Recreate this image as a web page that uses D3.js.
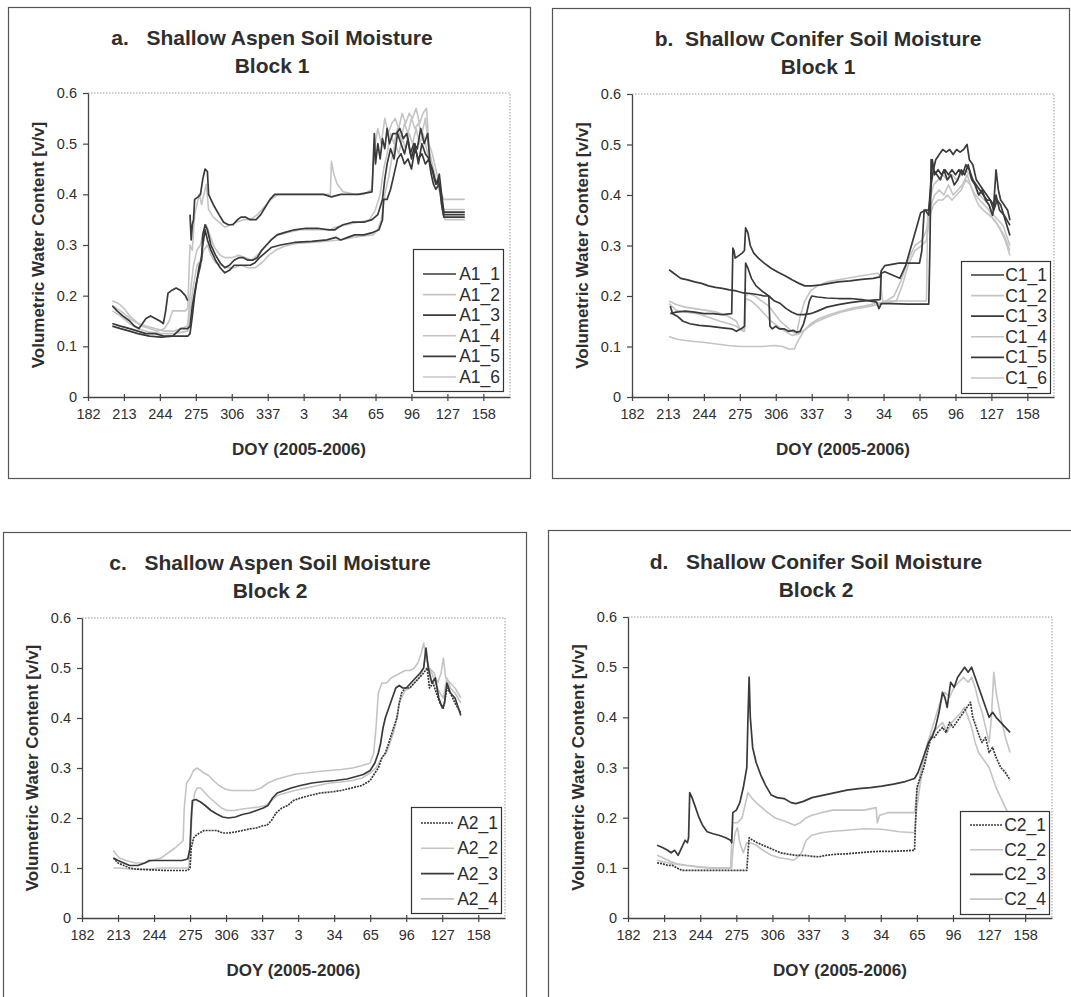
<!DOCTYPE html>
<html>
<head>
<meta charset="utf-8">
<script src="https://cdn.jsdelivr.net/npm/d3@7"></script>
<style>
  html, body { margin: 0; padding: 0; background: #ffffff; }
  svg { display: block; font-family: "Liberation Sans", Arial, sans-serif; }
</style>
</head>
<body>
<svg id="chart" width="1071" height="997"></svg>
<script>
// ---------- tick labels ----------
const xTickValues = [182, 213, 244, 275, 306, 337, 368, 399, 430, 461, 492, 523];
const xTickLabels = ["182","213","244","275","306","337","3","34","65","96","127","158"];
const yTickValues = [0, 0.1, 0.2, 0.3, 0.4, 0.5, 0.6];
const yTickLabels = ["0","0.1","0.2","0.3","0.4","0.5","0.6"];

// x = continuous day count starting at DOY 182 of 2005 (values > 365 are 2006 DOY + 365)
// ---------- Panel a : Shallow Aspen Block 1 ----------
const A1_1 = [[203,0.18],[207,0.17],[212,0.16],[218,0.15],[222,0.14],[226,0.135],[229,0.145],[232,0.155],[236,0.16],[240,0.155],[244,0.15],[247,0.145],[249,0.17],[251,0.205],[254,0.21],[258,0.215],[262,0.21],[266,0.2],[268,0.19],[269,null],[270,0.36],[271,0.31],[272,0.34],[273,0.35],[274,0.39],[277,0.395],[279,0.40],[281,0.43],[283,0.45],[285,0.445],[286,0.40],[290,0.38],[295,0.36],[299,0.345],[303,0.34],[307,0.34],[311,0.35],[314,0.355],[318,0.355],[322,0.35],[327,0.35],[331,0.36],[335,0.375],[339,0.39],[343,0.40],[355,0.40],[370,0.40],[385,0.40],[392,0.395],[400,0.40],[415,0.40],[427,0.405],[429,0.52],[430,0.46],[432,0.50],[434,0.47],[436,0.51],[438,0.49],[440,0.53],[442,0.50],[445,0.52],[448,0.52],[451,0.53],[454,0.51],[457,0.52],[460,0.48],[463,0.50],[466,0.49],[469,0.53],[472,0.50],[475,0.52],[477,0.46],[480,0.44],[482,0.42],[484,0.43],[486,0.41],[488,0.37],[489,0.36],[507,0.36]];
const A1_2 = [[203,0.19],[208,0.185],[213,0.175],[218,0.16],[223,0.15],[228,0.14],[235,0.135],[242,0.13],[248,0.135],[252,0.15],[255,0.17],[260,0.17],[266,0.17],[268,0.175],[270,0.30],[272,0.29],[274,0.36],[276,0.38],[278,0.40],[280,0.38],[282,0.40],[284,0.42],[286,0.37],[290,0.355],[295,0.345],[300,0.335],[305,0.34],[310,0.345],[316,0.35],[322,0.35],[328,0.36],[334,0.375],[340,0.39],[346,0.40],[360,0.40],[375,0.40],[391,0.40],[392,0.465],[394,0.44],[397,0.42],[402,0.405],[412,0.40],[420,0.40],[427,0.41],[429,0.49],[432,0.53],[435,0.50],[438,0.55],[441,0.52],[444,0.54],[447,0.55],[450,0.53],[453,0.56],[456,0.54],[459,0.56],[462,0.55],[465,0.57],[468,0.54],[471,0.56],[474,0.57],[476,0.50],[479,0.48],[481,0.46],[483,0.44],[485,0.42],[487,0.40],[489,0.39],[507,0.39]];
const A1_3 = [[203,0.145],[210,0.14],[218,0.135],[225,0.13],[232,0.125],[240,0.125],[248,0.12],[255,0.12],[262,0.12],[268,0.12],[270,0.125],[272,0.16],[274,0.20],[276,0.23],[278,0.26],[280,0.27],[281,0.32],[283,0.34],[285,0.33],[288,0.30],[292,0.28],[296,0.265],[300,0.255],[304,0.26],[308,0.27],[312,0.275],[316,0.275],[320,0.27],[324,0.27],[328,0.275],[332,0.29],[336,0.30],[340,0.31],[345,0.32],[352,0.325],[360,0.33],[370,0.333],[380,0.333],[390,0.33],[395,0.33],[398,0.335],[402,0.34],[410,0.345],[420,0.345],[427,0.35],[432,0.36],[436,0.39],[438,0.43],[440,0.46],[443,0.49],[446,0.47],[449,0.52],[452,0.50],[455,0.48],[458,0.51],[461,0.47],[464,0.50],[467,0.46],[470,0.50],[473,0.48],[476,0.47],[479,0.45],[481,0.43],[483,0.42],[485,0.44],[487,0.40],[489,0.365],[507,0.365]];
const A1_4 = [[203,0.18],[210,0.17],[218,0.155],[225,0.145],[232,0.14],[240,0.135],[248,0.13],[256,0.13],[262,0.135],[268,0.14],[270,0.20],[273,0.26],[276,0.29],[279,0.30],[282,0.33],[284,0.34],[287,0.32],[291,0.295],[296,0.28],[300,0.275],[306,0.275],[312,0.28],[318,0.275],[323,0.27],[328,0.28],[334,0.295],[340,0.31],[346,0.32],[355,0.325],[365,0.33],[380,0.33],[391,0.33],[395,0.335],[405,0.34],[415,0.345],[425,0.35],[430,0.37],[434,0.40],[437,0.45],[440,0.48],[443,0.52],[446,0.50],[449,0.53],[452,0.51],[455,0.54],[458,0.52],[461,0.55],[464,0.53],[467,0.54],[470,0.52],[473,0.55],[476,0.49],[478,0.47],[480,0.45],[482,0.43],[485,0.42],[487,0.38],[489,0.37],[507,0.37]];
const A1_5 = [[203,0.14],[210,0.135],[218,0.13],[225,0.125],[235,0.12],[245,0.118],[255,0.12],[262,0.135],[268,0.135],[270,0.14],[272,0.18],[275,0.22],[277,0.24],[279,0.26],[281,0.30],[283,0.33],[285,0.31],[288,0.29],[292,0.27],[296,0.255],[300,0.245],[304,0.25],[308,0.26],[313,0.26],[318,0.26],[322,0.26],[326,0.265],[330,0.275],[335,0.285],[340,0.295],[348,0.30],[360,0.305],[375,0.307],[388,0.31],[396,0.315],[400,0.31],[406,0.315],[412,0.32],[420,0.32],[428,0.325],[433,0.33],[436,0.35],[437,0.39],[440,0.39],[443,0.41],[446,0.44],[449,0.47],[452,0.48],[455,0.46],[458,0.47],[461,0.45],[464,0.49],[467,0.47],[470,0.48],[473,0.46],[476,0.47],[478,0.44],[480,0.42],[482,0.41],[485,0.42],[487,0.38],[489,0.355],[507,0.355]];
const A1_6 = [[203,0.17],[210,0.16],[218,0.145],[225,0.135],[235,0.128],[245,0.125],[255,0.125],[263,0.128],[268,0.13],[270,0.17],[273,0.22],[276,0.26],[279,0.27],[282,0.29],[285,0.30],[288,0.28],[292,0.265],[297,0.26],[302,0.255],[308,0.255],[314,0.26],[320,0.255],[326,0.255],[332,0.265],[338,0.28],[344,0.29],[352,0.298],[362,0.303],[375,0.305],[390,0.308],[400,0.31],[410,0.315],[420,0.318],[428,0.32],[432,0.33],[435,0.35],[438,0.40],[441,0.43],[444,0.47],[447,0.50],[450,0.48],[453,0.51],[456,0.49],[459,0.52],[462,0.50],[465,0.53],[468,0.50],[471,0.52],[474,0.49],[476,0.47],[478,0.45],[480,0.43],[483,0.42],[486,0.40],[488,0.36],[490,0.35],[507,0.35]];

// ---------- Panel b : Shallow Conifer Block 1 ----------
const C1_1 = [[214,0.252],[218,0.245],[224,0.235],[230,0.232],[236,0.228],[242,0.225],[248,0.22],[254,0.217],[260,0.215],[266,0.212],[272,0.21],[278,0.206],[284,0.205],[290,0.203],[296,0.20],[300,0.20],[301,0.14],[303,0.135],[306,0.14],[309,0.135],[313,0.135],[317,0.13],[321,0.132],[324,0.128],[327,0.13],[330,0.145],[333,0.17],[335,0.19],[337,0.20],[342,0.198],[350,0.196],[360,0.195],[370,0.195],[380,0.193],[388,0.19],[393,0.188],[395,0.175],[397,0.185],[405,0.185],[420,0.184],[438,0.184],[439,0.30],[440,0.47],[442,0.45],[444,0.47],[447,0.48],[450,0.49],[453,0.485],[456,0.49],[459,0.48],[462,0.49],[465,0.485],[468,0.49],[471,0.50],[473,0.47],[476,0.46],[479,0.43],[482,0.42],[485,0.41],[488,0.40],[491,0.39],[494,0.38],[496,0.45],[498,0.41],[500,0.39],[503,0.38],[506,0.37],[508,0.35]];
const C1_2 = [[214,0.19],[220,0.183],[228,0.178],[236,0.175],[245,0.172],[255,0.168],[265,0.16],[272,0.15],[275,0.135],[278,0.13],[279,0.13],[280,0.20],[283,0.205],[288,0.20],[294,0.19],[300,0.18],[305,0.165],[310,0.15],[315,0.14],[320,0.13],[324,0.125],[327,0.16],[331,0.19],[336,0.21],[342,0.22],[350,0.228],[360,0.232],[370,0.236],[380,0.24],[388,0.243],[394,0.245],[396,0.24],[398,0.19],[410,0.19],[425,0.19],[436,0.19],[437,0.36],[439,0.39],[442,0.42],[446,0.43],[450,0.44],[454,0.43],[458,0.44],[462,0.43],[466,0.44],[470,0.45],[473,0.44],[476,0.43],[479,0.41],[482,0.40],[486,0.39],[490,0.38],[494,0.36],[498,0.35],[502,0.34],[505,0.32],[508,0.30]];
const C1_3 = [[215,0.165],[220,0.168],[228,0.17],[236,0.168],[244,0.165],[252,0.165],[260,0.163],[268,0.165],[269,0.295],[270,0.29],[271,0.275],[274,0.28],[277,0.285],[279,0.29],[280,0.335],[282,0.325],[284,0.30],[287,0.285],[291,0.275],[296,0.265],[302,0.255],[308,0.247],[314,0.24],[320,0.232],[326,0.225],[331,0.22],[337,0.22],[345,0.222],[352,0.225],[360,0.228],[370,0.23],[380,0.233],[390,0.235],[396,0.238],[397,0.25],[400,0.26],[405,0.262],[412,0.265],[420,0.265],[430,0.265],[432,0.29],[434,0.37],[438,0.37],[440,0.43],[441,0.47],[443,0.44],[446,0.45],[449,0.44],[452,0.45],[455,0.44],[458,0.45],[461,0.44],[464,0.45],[467,0.44],[470,0.46],[473,0.45],[476,0.43],[479,0.42],[482,0.41],[485,0.40],[488,0.39],[491,0.39],[494,0.37],[497,0.39],[500,0.38],[504,0.35],[508,0.32]];
const C1_4 = [[214,0.12],[220,0.115],[228,0.112],[236,0.11],[245,0.108],[255,0.105],[265,0.102],[275,0.10],[285,0.10],[295,0.10],[305,0.102],[312,0.10],[317,0.095],[322,0.095],[325,0.11],[330,0.13],[336,0.145],[343,0.155],[352,0.163],[362,0.17],[372,0.176],[382,0.18],[392,0.185],[400,0.188],[408,0.20],[414,0.23],[420,0.27],[426,0.30],[432,0.31],[436,0.33],[440,0.38],[443,0.40],[447,0.41],[451,0.40],[455,0.42],[459,0.40],[463,0.41],[467,0.42],[471,0.44],[474,0.42],[477,0.40],[481,0.38],[485,0.37],[490,0.36],[495,0.35],[500,0.33],[504,0.31],[508,0.28]];
const C1_5 = [[215,0.18],[217,0.165],[221,0.16],[226,0.15],[232,0.145],[240,0.142],[250,0.14],[260,0.137],[268,0.135],[272,0.13],[276,0.135],[279,0.14],[280,0.265],[282,0.255],[285,0.235],[289,0.22],[294,0.21],[300,0.20],[305,0.19],[310,0.185],[315,0.175],[320,0.168],[325,0.163],[330,0.163],[336,0.165],[342,0.17],[350,0.178],[360,0.183],[370,0.187],[380,0.19],[390,0.192],[396,0.193],[397,0.245],[400,0.248],[405,0.243],[410,0.238],[413,0.235],[418,0.26],[423,0.30],[428,0.34],[431,0.365],[435,0.37],[438,0.36],[440,0.42],[442,0.45],[445,0.44],[448,0.43],[451,0.45],[454,0.43],[457,0.44],[460,0.42],[463,0.43],[466,0.45],[469,0.44],[472,0.46],[475,0.43],[478,0.42],[481,0.40],[484,0.41],[487,0.39],[490,0.38],[493,0.36],[496,0.40],[499,0.37],[503,0.36],[508,0.34]];
const C1_6 = [[214,0.185],[220,0.172],[228,0.168],[238,0.165],[248,0.158],[258,0.15],[266,0.145],[272,0.14],[276,0.133],[279,0.135],[280,0.195],[285,0.19],[290,0.18],[296,0.165],[302,0.15],[308,0.14],[314,0.13],[320,0.122],[326,0.125],[332,0.135],[340,0.148],[350,0.158],[362,0.168],[375,0.175],[388,0.18],[398,0.185],[410,0.19],[415,0.22],[420,0.26],[426,0.29],[432,0.30],[436,0.31],[439,0.36],[442,0.38],[446,0.39],[450,0.39],[454,0.40],[458,0.39],[462,0.40],[466,0.41],[470,0.43],[474,0.42],[478,0.40],[482,0.39],[486,0.38],[490,0.37],[494,0.35],[498,0.34],[503,0.32],[508,0.29]];

// ---------- Panel c : Shallow Aspen Block 2 ----------
const A2_1 = [[209,0.12],[213,0.11],[218,0.105],[223,0.10],[228,0.098],[235,0.097],[245,0.096],[255,0.095],[265,0.095],[273,0.095],[275,0.10],[276,0.14],[278,0.16],[280,0.165],[283,0.17],[287,0.175],[292,0.175],[298,0.175],[303,0.17],[308,0.17],[314,0.172],[320,0.175],[326,0.178],[332,0.18],[338,0.185],[341,0.185],[345,0.195],[349,0.21],[354,0.22],[359,0.225],[364,0.235],[370,0.24],[378,0.245],[387,0.25],[396,0.252],[405,0.255],[414,0.26],[423,0.265],[430,0.275],[434,0.29],[437,0.30],[440,0.32],[443,0.33],[446,0.35],[450,0.38],[453,0.40],[455,0.43],[457,0.45],[460,0.46],[464,0.46],[468,0.47],[472,0.48],[476,0.49],[479,0.50],[481,0.46],[484,0.47],[487,0.45],[490,0.43],[493,0.42],[496,0.46],[499,0.45],[503,0.43],[508,0.41]];
const A2_2 = [[209,0.135],[214,0.12],[220,0.115],[228,0.11],[236,0.11],[243,0.115],[250,0.12],[256,0.13],[262,0.14],[267,0.15],[269,0.155],[270,0.22],[272,0.27],[275,0.28],[278,0.295],[281,0.30],[284,0.295],[287,0.29],[291,0.285],[295,0.275],[300,0.265],[305,0.258],[310,0.255],[320,0.255],[330,0.255],[336,0.26],[342,0.27],[350,0.278],[358,0.283],[366,0.288],[375,0.29],[385,0.293],[395,0.295],[405,0.297],[415,0.30],[423,0.305],[430,0.31],[433,0.33],[435,0.38],[437,0.45],[440,0.47],[444,0.47],[448,0.48],[452,0.485],[456,0.49],[460,0.495],[464,0.495],[468,0.50],[471,0.51],[474,0.53],[476,0.55],[478,0.52],[481,0.50],[485,0.49],[488,0.47],[491,0.49],[493,0.52],[495,0.48],[499,0.47],[503,0.46],[508,0.44]];
const A2_3 = [[209,0.12],[213,0.115],[218,0.11],[223,0.105],[230,0.105],[236,0.11],[240,0.115],[250,0.115],[260,0.115],[268,0.115],[273,0.118],[275,0.14],[276,0.20],[277,0.235],[280,0.237],[284,0.232],[288,0.225],[293,0.215],[298,0.208],[303,0.202],[308,0.20],[314,0.202],[320,0.207],[326,0.21],[332,0.215],[338,0.22],[342,0.225],[346,0.24],[350,0.25],[356,0.255],[362,0.26],[370,0.265],[380,0.27],[390,0.273],[400,0.275],[410,0.278],[418,0.283],[424,0.287],[430,0.295],[434,0.31],[437,0.33],[439,0.35],[441,0.38],[443,0.40],[446,0.42],[449,0.44],[452,0.46],[455,0.465],[458,0.46],[461,0.46],[465,0.47],[469,0.48],[473,0.49],[476,0.50],[478,0.54],[480,0.50],[483,0.47],[486,0.48],[489,0.44],[492,0.42],[494,0.43],[496,0.47],[499,0.45],[503,0.44],[508,0.405]];
const A2_4 = [[209,0.10],[215,0.10],[222,0.098],[230,0.097],[240,0.098],[250,0.10],[260,0.10],[270,0.10],[274,0.10],[276,0.18],[277,0.22],[279,0.25],[281,0.26],[284,0.26],[288,0.25],[292,0.24],[297,0.23],[302,0.22],[307,0.215],[313,0.215],[320,0.218],[327,0.22],[334,0.222],[340,0.225],[345,0.235],[350,0.245],[357,0.25],[365,0.255],[375,0.26],[385,0.265],[395,0.27],[405,0.272],[415,0.275],[423,0.28],[430,0.29],[435,0.30],[440,0.32],[444,0.33],[447,0.35],[450,0.37],[453,0.40],[455,0.43],[457,0.44],[460,0.455],[464,0.46],[468,0.47],[472,0.48],[476,0.50],[478,0.53],[480,0.50],[483,0.49],[486,0.47],[490,0.45],[493,0.44],[496,0.48],[499,0.46],[503,0.45],[508,0.43]];

// ---------- Panel d : Shallow Conifer Block 2 ----------
const C2_1 = [[207,0.11],[212,0.108],[216,0.105],[220,0.105],[224,0.10],[228,0.095],[240,0.095],[255,0.095],[270,0.095],[284,0.095],[285,0.13],[286,0.16],[289,0.155],[293,0.15],[298,0.145],[303,0.14],[308,0.135],[313,0.13],[320,0.127],[326,0.125],[333,0.125],[340,0.123],[346,0.122],[352,0.125],[360,0.127],[370,0.128],[380,0.13],[390,0.132],[400,0.133],[410,0.133],[420,0.134],[428,0.135],[429,0.20],[430,0.26],[433,0.28],[436,0.30],[439,0.33],[442,0.36],[445,0.36],[448,0.37],[452,0.38],[455,0.37],[458,0.39],[461,0.38],[464,0.39],[467,0.40],[470,0.41],[473,0.42],[476,0.43],[478,0.40],[481,0.38],[484,0.36],[486,0.35],[489,0.36],[492,0.33],[495,0.34],[498,0.32],[502,0.30],[506,0.29],[510,0.275]];
const C2_2 = [[207,0.125],[212,0.12],[218,0.113],[224,0.108],[232,0.105],[240,0.103],[250,0.10],[260,0.10],[270,0.10],[271,0.15],[272,0.19],[276,0.19],[280,0.20],[283,0.23],[285,0.25],[288,0.24],[292,0.23],[297,0.22],[302,0.21],[308,0.20],[314,0.195],[320,0.19],[325,0.185],[330,0.19],[335,0.20],[340,0.205],[348,0.21],[358,0.215],[370,0.215],[385,0.215],[395,0.22],[396,0.19],[398,0.205],[405,0.21],[415,0.21],[428,0.21],[430,0.25],[434,0.30],[438,0.34],[442,0.37],[446,0.40],[450,0.43],[454,0.45],[458,0.44],[462,0.46],[466,0.47],[470,0.48],[474,0.47],[477,0.48],[480,0.46],[483,0.43],[486,0.41],[489,0.38],[492,0.35],[494,0.40],[496,0.49],[498,0.45],[502,0.40],[506,0.36],[510,0.33]];
const C2_3 = [[207,0.145],[212,0.14],[216,0.135],[219,0.13],[222,0.135],[225,0.125],[228,0.14],[231,0.155],[233,0.15],[234,0.16],[235,0.25],[237,0.24],[240,0.22],[243,0.20],[246,0.185],[250,0.172],[255,0.168],[260,0.165],[266,0.16],[270,0.155],[271,0.15],[272,0.21],[275,0.215],[278,0.23],[281,0.26],[284,0.30],[285,0.40],[286,0.48],[287,0.40],[289,0.34],[292,0.31],[296,0.285],[300,0.265],[305,0.245],[310,0.24],[316,0.238],[322,0.23],[326,0.228],[332,0.232],[340,0.24],[350,0.245],[360,0.25],[370,0.255],[380,0.258],[390,0.26],[400,0.263],[410,0.267],[420,0.272],[428,0.278],[431,0.29],[434,0.31],[437,0.33],[440,0.35],[443,0.36],[446,0.38],[449,0.41],[452,0.45],[454,0.44],[456,0.42],[459,0.47],[462,0.46],[465,0.48],[468,0.49],[471,0.50],[474,0.49],[477,0.50],[480,0.48],[483,0.46],[486,0.44],[489,0.42],[492,0.40],[495,0.41],[498,0.40],[502,0.39],[506,0.38],[510,0.37]];
const C2_4 = [[207,0.115],[212,0.112],[220,0.108],[230,0.105],[240,0.102],[255,0.10],[268,0.10],[271,0.10],[272,0.135],[274,0.17],[276,0.18],[278,0.15],[281,0.13],[284,0.15],[287,0.15],[292,0.145],[298,0.135],[305,0.125],[312,0.12],[318,0.118],[324,0.115],[327,0.12],[331,0.13],[335,0.155],[340,0.165],[348,0.17],[358,0.173],[370,0.175],[385,0.178],[400,0.177],[415,0.172],[428,0.17],[430,0.22],[433,0.27],[436,0.31],[440,0.35],[444,0.37],[448,0.38],[452,0.39],[456,0.37],[460,0.39],[464,0.40],[468,0.41],[471,0.42],[474,0.40],[477,0.38],[480,0.35],[483,0.33],[486,0.32],[489,0.31],[492,0.30],[495,0.28],[498,0.26],[502,0.24],[506,0.22],[510,0.20]];

const seriesNamesA1 = ["A1_1","A1_2","A1_3","A1_4","A1_5","A1_6"];
const seriesNamesC1 = ["C1_1","C1_2","C1_3","C1_4","C1_5","C1_6"];
const seriesNamesA2 = ["A2_1","A2_2","A2_3","A2_4"];
const seriesNamesC2 = ["C2_1","C2_2","C2_3","C2_4"];

// ---------- styles ----------
const DARK = "#3a3a3a", LIGHT = "#c4c4c4";
const styleOf = {
  A1_1:{c:DARK,w:1.7,d:null}, A1_2:{c:LIGHT,w:1.6,d:null}, A1_3:{c:DARK,w:1.7,d:null},
  A1_4:{c:LIGHT,w:1.6,d:null}, A1_5:{c:DARK,w:1.7,d:null}, A1_6:{c:LIGHT,w:1.6,d:null},
  C1_1:{c:DARK,w:1.7,d:null}, C1_2:{c:LIGHT,w:1.6,d:null}, C1_3:{c:DARK,w:1.7,d:null},
  C1_4:{c:LIGHT,w:1.6,d:null}, C1_5:{c:DARK,w:1.7,d:null}, C1_6:{c:LIGHT,w:1.6,d:null},
  A2_1:{c:DARK,w:1.7,d:"2,1"}, A2_2:{c:LIGHT,w:1.6,d:null}, A2_3:{c:DARK,w:1.7,d:null}, A2_4:{c:LIGHT,w:1.6,d:null},
  C2_1:{c:DARK,w:1.7,d:"2,1"}, C2_2:{c:LIGHT,w:1.6,d:null}, C2_3:{c:DARK,w:1.7,d:null}, C2_4:{c:LIGHT,w:1.6,d:null}
};

const panels = [
  { title1:"a.\u00a0\u00a0\u00a0Shallow Aspen Soil Moisture", title2:"Block 1", tx:272, box:[8.5,7.5,530.5,478.5],
    plot:{l:88,r:510,t:93,b:397}, names:seriesNamesA1, data:[A1_1,A1_2,A1_3,A1_4,A1_5,A1_6],
    leg:{x0:413,x1:503,y0:249,y1:391,first:274,step:20.6} },
  { title1:"b.\u00a0\u00a0Shallow Conifer Soil Moisture", title2:"Block 1", tx:818, box:[552.5,8.5,1069.5,478.5],
    plot:{l:632,r:1054,t:94,b:397}, names:seriesNamesC1, data:[C1_1,C1_2,C1_3,C1_4,C1_5,C1_6],
    leg:{x0:961,x1:1050,y0:261,y1:393,first:275,step:20.6} },
  { title1:"c.\u00a0\u00a0\u00a0Shallow Aspen Soil Moisture", title2:"Block 2", tx:270, box:[3.5,532.5,526.5,1010],
    plot:{l:82,r:505,t:618,b:918}, names:seriesNamesA2, data:[A2_1,A2_2,A2_3,A2_4],
    leg:{x0:411,x1:501,y0:807,y1:913,first:823,step:25.3} },
  { title1:"d.\u00a0\u00a0\u00a0Shallow Conifer Soil Moisture", title2:"Block 2", tx:816, box:[548.5,530.5,1075,1010],
    plot:{l:628,r:1052,t:617,b:918}, names:seriesNamesC2, data:[C2_1,C2_2,C2_3,C2_4],
    leg:{x0:960,x1:1049,y0:811,y1:914,first:825,step:24.7} }
];

const svg = d3.select("#chart");
const TXT = "#2e2e2e";

panels.forEach(p => {
  const g = svg.append("g");
  // outer chart box
  g.append("rect").attr("x",p.box[0]).attr("y",p.box[1])
    .attr("width",p.box[2]-p.box[0]).attr("height",p.box[3]-p.box[1])
    .attr("fill","#ffffff").attr("stroke","#555").attr("stroke-width",1.2);

  const x = d3.scaleLinear().domain([182, 546]).range([p.plot.l, p.plot.r]);
  const y = d3.scaleLinear().domain([0, 0.6]).range([p.plot.b, p.plot.t]);

  // plot border (dotted top/right)
  g.append("path")
    .attr("d", `M${p.plot.l},${p.plot.t}H${p.plot.r}V${p.plot.b}`)
    .attr("fill","none").attr("stroke","#9a9a9a").attr("stroke-width",1).attr("stroke-dasharray","1.5,1.5");

  // titles
  g.append("text").attr("x",p.tx).attr("y",p.plot.t-56).attr("text-anchor","middle")
    .attr("dominant-baseline","central").attr("font-size",21).attr("font-weight","bold").attr("fill",TXT)
    .text(p.title1);
  g.append("text").attr("x",p.tx).attr("y",p.plot.t-28).attr("text-anchor","middle")
    .attr("dominant-baseline","central").attr("font-size",21).attr("font-weight","bold").attr("fill",TXT)
    .text(p.title2);

  // series lines
  const line = d3.line().defined(d => d[1] !== null).x(d => x(d[0])).y(d => y(d[1]));
  // draw light first, dark on top
  const order = p.names.map((n,i)=>i).sort((a,b)=> (styleOf[p.names[a]].c===LIGHT?0:1) - (styleOf[p.names[b]].c===LIGHT?0:1));
  order.forEach(i => {
    const s = styleOf[p.names[i]];
    g.append("path").datum(p.data[i]).attr("d", line)
      .attr("fill","none").attr("stroke",s.c).attr("stroke-width",s.w)
      .attr("stroke-linejoin","round")
      .attr("stroke-dasharray", s.d);
  });

  // axes
  const xAxis = d3.axisBottom(x).tickValues(xTickValues)
    .tickFormat((d,i) => xTickLabels[i]).tickSizeInner(4).tickSizeOuter(0).tickPadding(8);
  const xg = g.append("g").attr("transform",`translate(0,${p.plot.b})`).call(xAxis);
  xg.selectAll(".tick line").attr("y1",-3).attr("y2",4);
  const yAxis = d3.axisLeft(y).tickValues(yTickValues)
    .tickFormat((d,i) => yTickLabels[i]).tickSizeInner(5).tickSizeOuter(0).tickPadding(6);
  const yg = g.append("g").attr("transform",`translate(${p.plot.l},0)`).call(yAxis);
  [xg, yg].forEach(ax => {
    ax.select(".domain").attr("stroke","#444").attr("stroke-width",1.3);
    ax.selectAll(".tick line").attr("stroke","#444").attr("stroke-width",1.2);
    ax.selectAll(".tick text").attr("font-size",14.5).attr("fill",TXT)
      .attr("font-family",'"Liberation Sans", Arial, sans-serif');
  });

  // axis titles
  g.append("text").attr("x",(p.plot.l+p.plot.r)/2).attr("y",p.plot.b+52)
    .attr("text-anchor","middle").attr("dominant-baseline","central")
    .attr("font-size",17).attr("font-weight","bold").attr("fill",TXT).text("DOY (2005-2006)");
  g.append("text").attr("transform",`translate(${p.plot.l-50},${(p.plot.t+p.plot.b)/2}) rotate(-90)`)
    .attr("text-anchor","middle").attr("dominant-baseline","central")
    .attr("font-size",17).attr("font-weight","bold").attr("fill",TXT).text("Volumetric Water Content [v/v]");

  // legend
  const L = p.leg;
  g.append("rect").attr("x",L.x0+0.5).attr("y",L.y0+0.5).attr("width",L.x1-L.x0).attr("height",L.y1-L.y0)
    .attr("fill","#ffffff").attr("stroke","#333").attr("stroke-width",1.2);
  p.names.forEach((n,i) => {
    const s = styleOf[n];
    const yy = L.first + i*L.step;
    g.append("line").attr("x1",L.x0+10).attr("x2",L.x0+43).attr("y1",yy).attr("y2",yy)
      .attr("stroke",s.c).attr("stroke-width",s.w).attr("stroke-dasharray",s.d);
    g.append("text").attr("x",L.x1-3).attr("y",yy).attr("text-anchor","end")
      .attr("dominant-baseline","central").attr("font-size",17.5).attr("fill",TXT).text(n);
  });
});
</script>
</body>
</html>
